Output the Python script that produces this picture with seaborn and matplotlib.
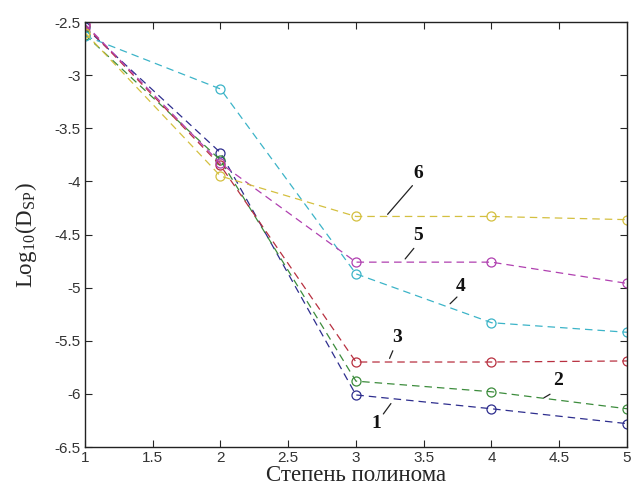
import pandas as pd
import matplotlib
matplotlib.use("Agg")
import matplotlib.pyplot as plt
import seaborn as sns

# polynomial degree
degree = [1, 2, 3, 4, 5]

# Log10(D_SP) for curves 1..6
curve_1 = [-2.55, -3.73, -6.01, -6.14, -6.28]
curve_2 = [-2.62, -3.80, -5.88, -5.98, -6.14]
curve_3 = [-2.53, -3.85, -5.70, -5.70, -5.69]
curve_4 = [-2.63, -3.13, -4.87, -5.33, -5.42]
curve_5 = [-2.52, -3.83, -4.76, -4.76, -4.96]
curve_6 = [-2.60, -3.95, -4.33, -4.33, -4.36]

curve_names = ["1", "2", "3", "4", "5", "6"]
curve_colors = ["#2e2e8e", "#3c8c3c", "#b83040", "#3cb4c8", "#b040b0", "#d4c040"]

# label text position and leader line end (data units)
label_pos = [(3.15, -6.28), (4.49, -5.87), (3.30, -5.47), (3.77, -4.99), (3.46, -4.51), (3.46, -3.93)]
leader_start = [(3.19, -6.21), (4.45, -5.99), (3.28, -5.57), (3.76, -5.07), (3.44, -4.61), (3.43, -4.02)]
leader_end = [(3.27, -6.07), (4.37, -6.05), (3.24, -5.69), (3.68, -5.17), (3.35, -4.75), (3.22, -4.33)]

rows = []
for name, vals in zip(curve_names, [curve_1, curve_2, curve_3, curve_4, curve_5, curve_6]):
    for x, y in zip(degree, vals):
        rows.append({"degree": x, "value": y, "curve": name})
df = pd.DataFrame(rows)

sns.set_style("ticks")
plt.rcParams["font.family"] = ["Liberation Sans", "DejaVu Sans"]
plt.rcParams["mathtext.fontset"] = "stix"

fig = plt.figure(figsize=(6.32, 4.93), dpi=100)
ax = fig.add_axes([0.1345, 0.0933, 0.8575, 0.862])

sns.lineplot(data=df, x="degree", y="value", hue="curve", palette=curve_colors,
             marker="o", markersize=6.5, markerfacecolor="none", markeredgewidth=0.9,
             linewidth=0.9, dashes=False, legend=False, ax=ax)
for line, c in zip(ax.get_lines(), curve_colors):
    line.set_linestyle((0, (6, 4)))
    line.set_markeredgecolor(c)

for i in range(len(curve_names)):
    ax.annotate("", xy=leader_end[i], xytext=leader_start[i],
                arrowprops=dict(arrowstyle="-", color="#222222", lw=0.9))
    ax.text(label_pos[i][0], label_pos[i][1], curve_names[i], ha="center", va="center",
            fontsize=14, fontweight="bold", family="Liberation Serif", color="#111111")

ax.set_xlim(1, 5)
ax.set_ylim(-6.5, -2.5)
ax.set_xticks([1, 1.5, 2, 2.5, 3, 3.5, 4, 4.5, 5])
ax.set_xticklabels(["1", "1.5", "2", "2.5", "3", "3.5", "4", "4.5", "5"])
ax.set_yticks([-6.5, -6, -5.5, -5, -4.5, -4, -3.5, -3, -2.5])
ax.set_yticklabels(["-6.5", "-6", "-5.5", "-5", "-4.5", "-4", "-3.5", "-3", "-2.5"])
ax.tick_params(direction="in", top=True, right=True, length=5, width=0.8,
               labelsize=11, labelcolor="#333333", pad=3)
for sp in ax.spines.values():
    sp.set_visible(True)
    sp.set_linewidth(1.0)
    sp.set_color("#222222")

ax.set_xlabel("Степень полинома", family="Liberation Serif", fontsize=16.5, labelpad=0)
ax.set_ylabel(r"Log$_{\mathregular{10}}$(D$_{\mathregular{SP}}$)", family="Liberation Serif",
              fontsize=16.5, labelpad=11)

fig.savefig("out.png", dpi=100)
